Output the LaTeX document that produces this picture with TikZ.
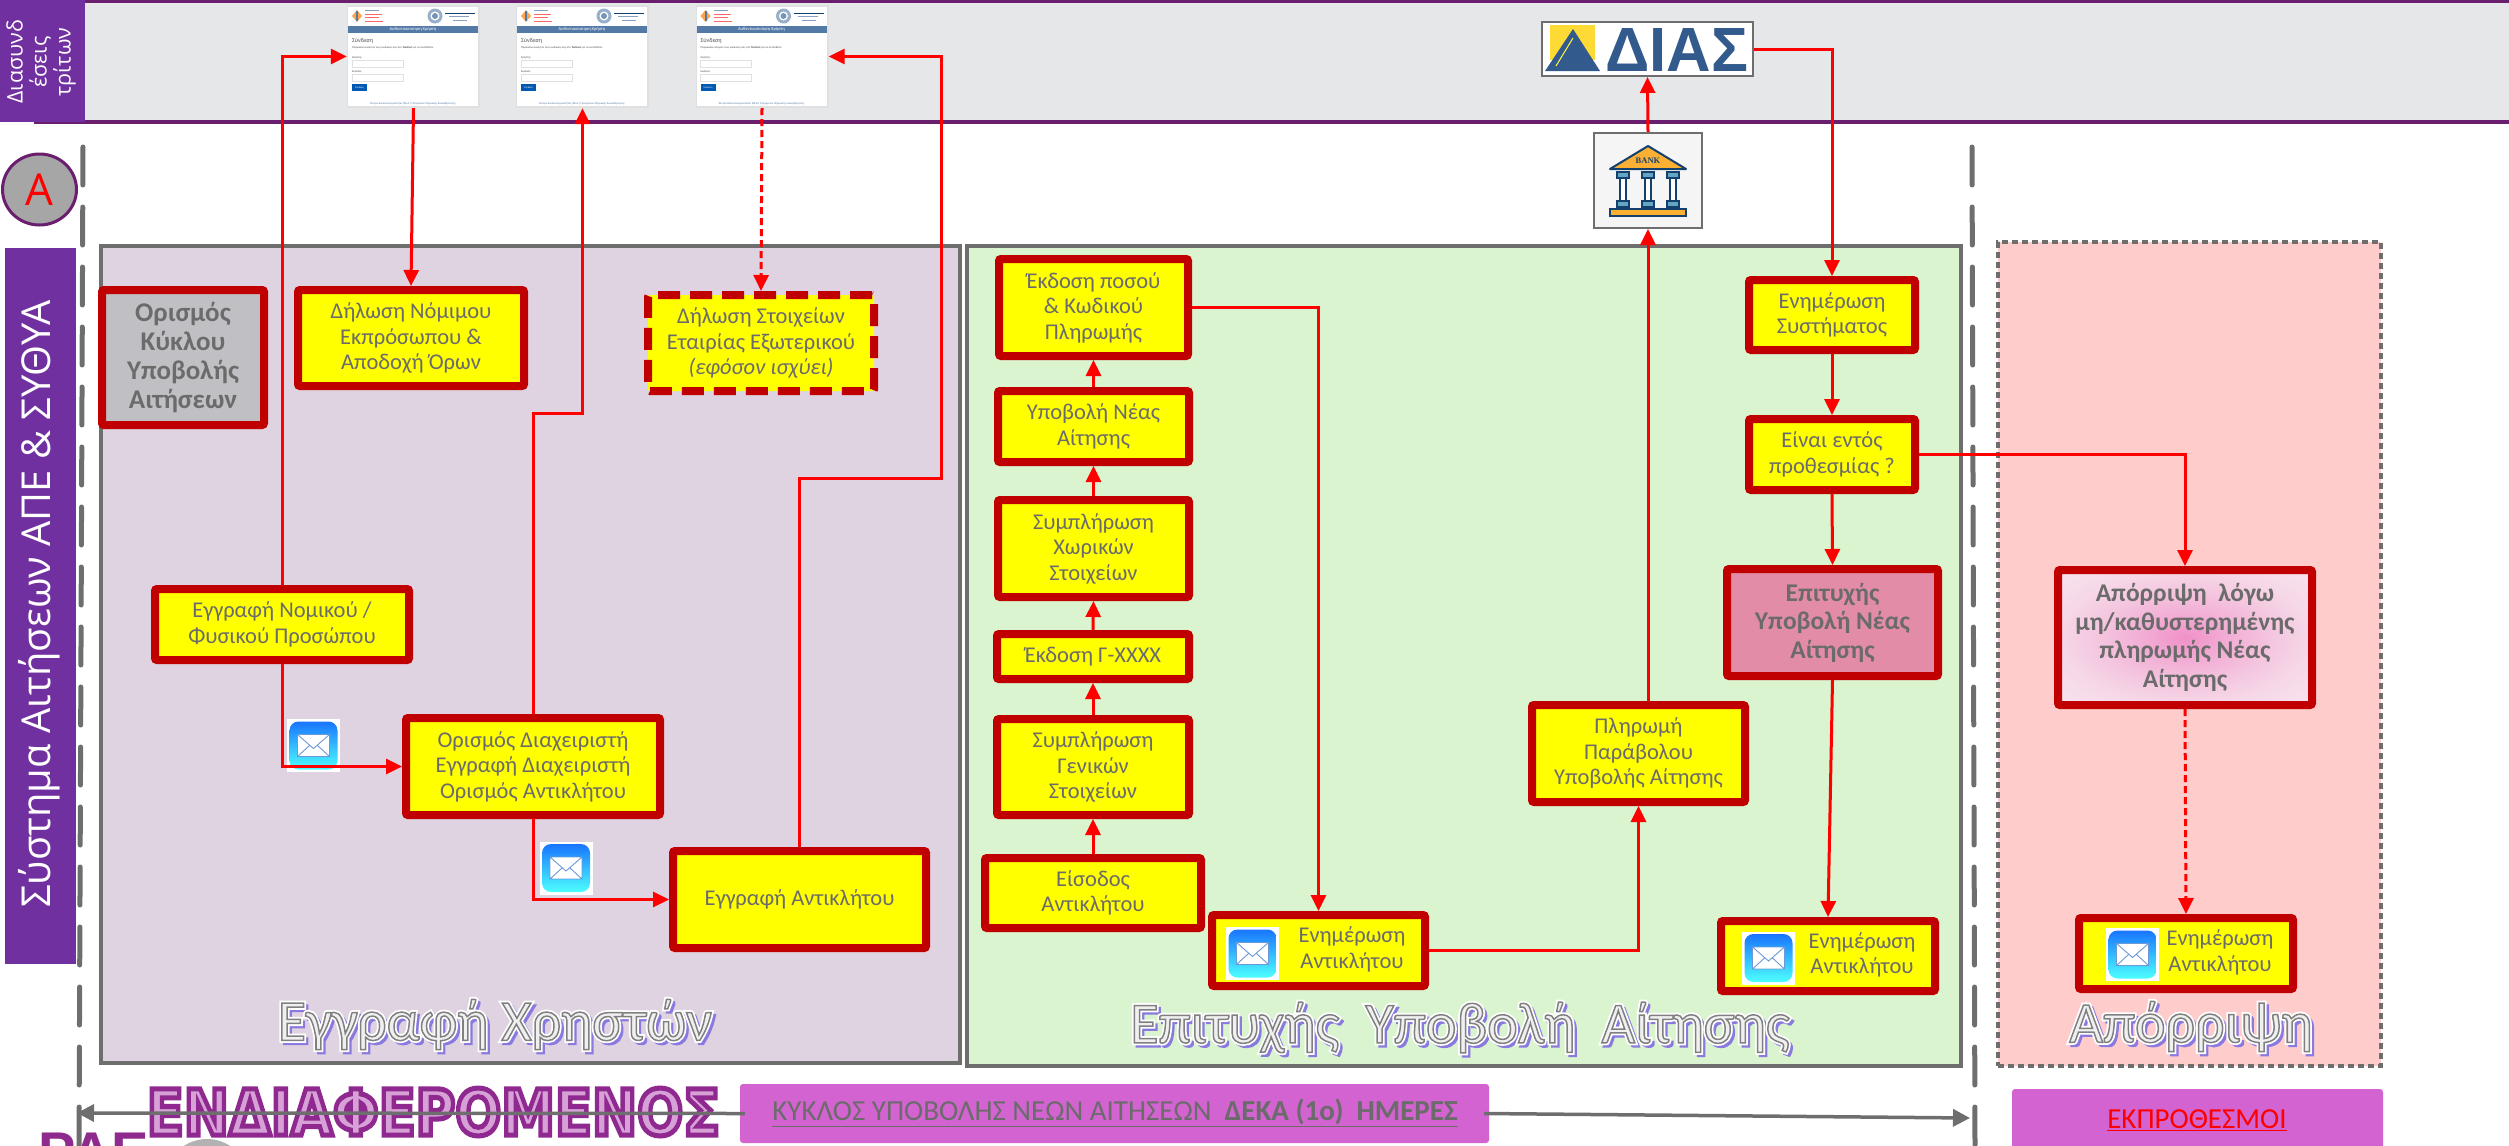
\documentclass[tikz,border=0pt]{standalone}
\usepackage{fontspec}
\usepackage{graphicx}
\setmainfont{Carlito}
\newfontfamily\osans{Open Sans}
\newfontfamily\djv{DejaVu Sans}
\newfontfamily\lib{Liberation Sans}
\newfontfamily\tms{Liberation Serif}
\usetikzlibrary{arrows.meta,shapes.geometric,calc}
\definecolor{sidepurple}{HTML}{7030A0}
\definecolor{bandline}{HTML}{6A1E6E}
\definecolor{bandgrey}{HTML}{E6E7E9}
\definecolor{panelpurple}{HTML}{E0D3E1}
\definecolor{panelgreen}{HTML}{D9F4CE}
\definecolor{panelred}{HTML}{FFCCCC}
\definecolor{edgegrey}{HTML}{6E6E6E}
\definecolor{boxred}{HTML}{C00000}
\definecolor{boxyellow}{RGB}{255,255,0}
\definecolor{txtgrey}{HTML}{6B6B6B}
\definecolor{pill}{HTML}{D263D0}
\definecolor{formblue}{HTML}{5379A6}
\definecolor{navy}{HTML}{14406E}
\definecolor{diasblue}{HTML}{325A8C}
\definecolor{bankorange}{HTML}{FBB034}
\definecolor{shadowblue}{HTML}{8A7AE0}
\definecolor{titlepurple}{HTML}{8F2A8E}
\definecolor{pinka}{HTML}{F090C8}
\definecolor{pinkb}{HTML}{F2ACD4}
\definecolor{pinkc}{HTML}{F4C8E0}
\definecolor{pinkd}{HTML}{F6D8E8}
\definecolor{pinke}{HTML}{F8E4EF}
\pgfdeclareradialshading{pinkrad}{\pgfpoint{0bp}{0bp}}{color(0bp)=(pinka); color(8bp)=(pinkb); color(18bp)=(pinkc); color(25bp)=(pinkd); color(36bp)=(pinke); color(50bp)=(pinke)}
\newcommand\strokefill[3]{\special{pdf:code q 2 Tr #2 w #1 RG}#3\special{pdf:code Q}}
\newcommand\outlinetext[1]{\leavevmode
  \rlap{\hspace{3pt}\raisebox{-3pt}{\color{shadowblue}\strokefill{0.54 0.48 0.88}{3.5}{#1}}}%
  \rlap{\color{white}\strokefill{1 1 1}{5}{#1}}%
  {\color{black!6}\strokefill{0.5 0.5 0.5}{1.5}{#1}}}
\newcommand\lines[1]{\begin{tabular}{@{}c@{}}#1\end{tabular}}
\tikzset{
  flow/.style={draw=boxred,line width=8pt,rounded corners=2pt,fill=boxyellow,text=txtgrey,align=center,inner sep=0pt,
    font=\fontsize{22.5}{25.5}\selectfont},
  flowdash/.style={flow,dash pattern=on 22pt off 10pt},
  boldbox/.style={flow,font=\fontsize{25.5}{28.5}\selectfont\bfseries},
  panel/.style={draw=edgegrey,line width=4pt},
  lane/.style={draw=edgegrey,line width=5pt,line cap=round,dash pattern=on 38pt off 22pt},
  conn/.style={draw=red,line width=3pt,-{Triangle[length=16pt,width=15pt]}},
  connd/.style={conn,dash pattern=on 7pt off 4pt},
  greyarrow/.style={draw=edgegrey,line width=3.5pt,-{Triangle[length=17pt,width=17pt]}},
  pillbox/.style={fill=pill,rounded corners=3pt,inner sep=0pt},
  formframe/.style={fill=black!12,inner sep=0pt},
  tiny/.style={inner sep=0pt,anchor=west},
  paneltitle/.style={inner sep=0pt,font=\fontsize{58}{62}\selectfont},
}
\newcommand\formbody[3]{%
\begin{scope}[shift={(#1,#2)}]
\fill[white] (1,2) rectangle (131,101);
\fill[formblue] (1,21) rectangle (131,28);
\fill[orange!70] (5,11) -- (10,5) -- (15,11) -- (10,17) -- cycle;
\fill[formblue] (9,6) rectangle (11,16);
\draw[line width=.7pt,formblue!70] (18,5) -- (32,5);
\draw[line width=.7pt,red!60] (18,9) -- (35,9);
\draw[line width=.7pt,red!60] (18,12.5) -- (32,12.5);
\draw[line width=.7pt,red!60] (18,16.5) -- (36,16.5);
\fill[formblue!60] (88,11) circle (7.5);
\fill[white] (88,11) circle (4.5);
\fill[formblue!80] (88,11) circle (3);
\draw[line width=.8pt,navy] (98,8) -- (128,8);
\draw[line width=.7pt,formblue!70] (102,11.5) -- (122,11.5);
\draw[line width=.7pt,formblue!70] (106,15) -- (120,15);
\node[inner sep=0pt,text=white,font=\fontsize{4.5}{5}\selectfont] (#3a) at (66,24.5) {Αυθεντικοποίηση Χρήστη};
\node[tiny,text=black!70,font=\fontsize{6}{7}\selectfont] (#3b) at (5,36) {Σύνδεση};
\node[tiny,text=black!70,font=\fontsize{2.8}{3}\selectfont] (#3c) at (5,42.5) {Παρακαλώ εισάγετε τους κωδικούς σας στο \textbf{Taxisnet} για να συνδεθείτε.};
\node[tiny,text=black!70,font=\fontsize{2.8}{3}\selectfont] (#3d) at (5,53) {Χρήστης};
\draw[black!12,fill=white,line width=.5pt] (5,55) rectangle (56,62);
\node[tiny,text=black!70,font=\fontsize{2.8}{3}\selectfont] (#3e) at (5,67) {Κωδικός};
\draw[black!12,fill=white,line width=.5pt] (5,69) rectangle (56,76);
\fill[blue!50!cyan!70!black] (5,79) rectangle (20,86);
\node[inner sep=0pt,text=white,font=\fontsize{2.5}{3}\selectfont] (#3f) at (12.5,82.5) {Σύνδεση};
\node[inner sep=0pt,text=formblue,font=\fontsize{2.8}{3}\selectfont] (#3g) at (66,98.5) {Κέντρο Διαλειτουργικότητας (ΚΕ.Δ.) Υπουργείου Ψηφιακής Διακυβέρνησης};
\end{scope}}
\newcommand\mailicon[2]{%
\begin{scope}[shift={(#1,#2)}]
\fill[white] (-26.5,-26.5) rectangle (26.5,26.5);
\shade[top color=blue!60!cyan!90!white,bottom color=cyan!70!white,rounded corners=9pt] (-24,-24) rectangle (24,24);
\fill[white] (-16,-11) rectangle (16,11);
\draw[cyan!50!blue!60!white,line width=.9pt] (-16,-11) -- (0,3) -- (16,-11) (-16,11) -- (-4,0) (16,11) -- (4,0) (-16,-11) rectangle (16,11);
\end{scope}}
\begin{document}
\begin{tikzpicture}[x=1pt,y=-1pt]
\path[use as bounding box,clip] (0,0) rectangle (2509,1146);
% top band
\fill[bandgrey] (85,0) rectangle (2509,121);
\fill[bandline] (0,0) rectangle (2509,2.5);
\draw[bandline,line width=4pt] (34,122) -- (2509,122);
\fill[sidepurple] (0,0) rectangle (85,122);
\node[rotate=90,text=white,align=center,inner sep=0pt,font=\osans\fontsize{21.5}{24}\selectfont] (thirdlabel) at (41,62) {Διασυνδ\\έσεις\\τρίτων};
% circle A
\node[ellipse,draw=bandline,line width=3pt,fill=black!35,minimum width=74pt,minimum height=71pt,inner sep=0pt,text=red,font=\osans\fontsize{44}{50}\selectfont] (circA) at (39.5,189.5) {A};
% panels
\node[panel,fill=panelpurple,minimum width=859pt,minimum height=817pt,inner sep=0pt] (panA) at (530.5,654.5) {};
\node[panel,fill=panelgreen,minimum width=994pt,minimum height=820pt,inner sep=0pt] (panB) at (1464,656) {};
\node[draw=edgegrey,line width=4pt,dash pattern=on 6pt off 4pt,fill=panelred,minimum width=383pt,minimum height=824pt,inner sep=0pt] (panC) at (2189.5,654) {};
% system sidebar
\node[fill=sidepurple,minimum width=71pt,minimum height=716pt,inner sep=0pt] (sysbar) at (40.5,606) {};
\node[rotate=90,text=white,inner sep=0pt,font=\osans] (systxt) at (39,604) {\resizebox{607pt}{!}{Σύστημα Αιτήσεων ΑΠΕ \& ΣΥΘΥΑ}};
% lane lines
\coordinate (l1a) at (83,147);
\coordinate (l1b) at (79,1146);
\coordinate (l2a) at (1972,147);
\coordinate (l2b) at (1975,1146);
\draw[lane] (l1a) -- (l1b);
\draw[lane] (l2a) -- (l2b);
% forms
\node[formframe,minimum width=133pt,minimum height=103pt] (f1) at (413.5,56.5) {};
\formbody{347}{5}{fa}
\node[formframe,minimum width=133pt,minimum height=103pt] (f2) at (582.5,56.5) {};
\formbody{516}{5}{fb}
\node[formframe,minimum width=133pt,minimum height=103pt] (f3) at (762,56.5) {};
\formbody{695.5}{5}{fc}
% DIAS
\node[draw=edgegrey,line width=2pt,fill=white,minimum width=211pt,minimum height=54pt,inner sep=0pt] (dias) at (1647.5,49) {};
\fill[yellow!70!orange!80!white] (1550,25) rectangle (1595,60);
\fill[diasblue] (1573,29) -- (1600,71) -- (1545,71) -- cycle;
\draw[yellow!70!white,line width=1pt] (1573,38) -- (1556,66);
\node[inner sep=0pt,text=diasblue,font=\lib\bfseries] (diastxt) at (1676.5,49.5) {\resizebox{143pt}{43pt}{ΔΙΑΣ}};
% bank
\node[draw=edgegrey,line width=2pt,fill=black!4,minimum width=108pt,minimum height=95pt,inner sep=0pt] (bank) at (1648,180.5) {};
\draw[navy,line width=2pt,fill=bankorange,line join=round] (1648,146) -- (1686,169) -- (1610,169) -- cycle;
\node[inner sep=0pt,text=navy,font=\tms\bfseries\fontsize{8.5}{9}\selectfont] (banktxt) at (1648,161) {BANK};
\foreach \cx in {1623,1648,1673}{
  \draw[navy,line width=1.2pt,fill=white] (\cx-3,178) rectangle (\cx+3,201);
  \draw[navy,line width=1.2pt,fill=cyan!50!gray] (\cx-6,172) rectangle (\cx+6,178);
  \draw[navy,line width=1.2pt,fill=cyan!50!gray] (\cx-6,201) rectangle (\cx+6,207);
}
\draw[navy,line width=1.5pt,fill=bankorange] (1610,209) rectangle (1686,216);
% left panel boxes
\node[boldbox,fill={rgb,255:red,192;green,192;blue,196},font=\fontsize{27}{29}\selectfont\bfseries,minimum width=162pt,minimum height=135pt] (cyc) at (183,357.5) {Ορισμός\\Κύκλου\\Υποβολής\\Αιτήσεων};
\node[flow,minimum width=226pt,minimum height=96pt] (nomimos) at (411,338) {Δήλωση Νόμιμου\\Εκπρόσωπου \&\\Αποδοχή Όρων};
\node[flowdash,minimum width=226pt,minimum height=96pt] (stoix) at (761,343) {Δήλωση Στοιχείων\\Εταιρίας Εξωτερικού\\\textit{(εφόσον ισχύει)}};
\node[flow,minimum width=254pt,minimum height=71pt] (nomik) at (282,624.5) {Εγγραφή Νομικού /\\Φυσικού Προσώπου};
\node[flow,minimum width=254pt,minimum height=97pt] (ord) at (533,766.5) {Ορισμός Διαχειριστή\\Εγγραφή Διαχειριστή\\Ορισμός Αντικλήτου};
\node[flow,minimum width=253pt,minimum height=97pt] (ant) at (799.5,899.5) {Εγγραφή Αντικλήτου};
% green stack
\node[flow,minimum width=189pt,minimum height=97pt] (ekd) at (1093.5,307.5) {Έκδοση ποσού\\\& Κωδικού\\Πληρωμής};
\node[flow,minimum width=191pt,minimum height=71pt] (ypo) at (1093.5,426.5) {Υποβολή Νέας\\Αίτησης};
\node[flow,minimum width=191pt,minimum height=97pt] (xor) at (1093.5,548.5) {Συμπλήρωση\\Χωρικών\\Στοιχείων};
\node[flow,minimum width=192pt,minimum height=45pt] (gxx) at (1093,656.5) {Έκδοση Γ-ΧΧΧΧ};
\node[flow,minimum width=192pt,minimum height=96pt] (gen) at (1093,767) {Συμπλήρωση\\Γενικών\\Στοιχείων};
\node[flow,minimum width=216pt,minimum height=70pt] (eis) at (1093,893) {Είσοδος\\Αντικλήτου};
\node[flow,minimum width=213pt,minimum height=71pt] (en1) at (1318.5,950.5) {\hspace*{67pt}\lines{Ενημέρωση\\Αντικλήτου}};
\node[flow,minimum width=213pt,minimum height=97pt] (pl) at (1638.5,753.5) {Πληρωμή\\Παράβολου\\Υποβολής Αίτησης};
\node[flow,minimum width=166pt,minimum height=70pt] (sys) at (1832,315) {Ενημέρωση\\Συστήματος};
\node[flow,minimum width=166pt,minimum height=71pt] (ent) at (1832,454.5) {Είναι εντός\\προθεσμίας ?};
\node[boldbox,fill={rgb,255:red,227;green,140;blue,168},minimum width=211pt,minimum height=107pt] (epi) at (1832.5,622.5) {Επιτυχής\\Υποβολή Νέας\\Αίτησης};
\node[flow,minimum width=214pt,minimum height=70pt] (en2) at (1828,956) {\hspace*{68pt}\lines{Ενημέρωση\\Αντικλήτου}};
\node[boldbox,shading=pinkrad,minimum width=254pt,minimum height=135pt] (apo) at (2185,637.5) {Απόρριψη\ \ λόγω\\μη/καθυστερημένης\\πληρωμής Νέας\\Αίτησης};
\node[flow,minimum width=214pt,minimum height=71pt] (en3) at (2186,953.5) {\hspace*{68pt}\lines{Ενημέρωση\\Αντικλήτου}};
% icons
\mailicon{313.5}{745.5}
\mailicon{566}{868}
\mailicon{1252.5}{953.5}
\mailicon{1768.5}{958}
\mailicon{2132.5}{954.5}
% panel titles
\node[paneltitle] (tA) at (495,1026) {\outlinetext{Εγγραφή Χρηστών}};
\node[paneltitle] (tB) at (1460,1029) {\outlinetext{Επιτυχής\ \ Υποβολή\ \ Αίτησης}};
\node[paneltitle] (tC) at (2191,1028) {\outlinetext{Απόρριψη}};
% bottom
\node[inner sep=0pt,anchor=base west,text=titlepurple,font=\lib\bfseries\fontsize{56}{58}\selectfont] (rae) at (38,1171) {ΡΑΕ};
\node[circle,fill=black!30,minimum size=84pt,inner sep=0pt] (disc) at (207,1181) {};
\node[inner sep=0pt,text={rgb,255:red,215;green,160;blue,215},font=\djv\bfseries] (endia) at (433.5,1112) {\resizebox{573pt}{47pt}{\strokefill{0.56 0.16 0.56}{0.8}{ΕΝΔΙΑΦΕΡΟΜΕΝΟΣ}}};
\node[pillbox,minimum width=749pt,minimum height=59pt] (pill1) at (1114.5,1113.5) {};
\node[inner sep=0pt,text=txtgrey,font=\fontsize{29}{32}\selectfont] (pill1t) at (1115,1113) {\underline{ΚΥΚΛΟΣ ΥΠΟΒΟΛΗΣ ΝΕΩΝ ΑΙΤΗΣΕΩΝ\ \ \textbf{ΔΕΚΑ (1ο)\ \ ΗΜΕΡΕΣ}}};
\node[pillbox,minimum width=371pt,minimum height=70pt] (pill2) at (2197.5,1124) {};
\node[inner sep=0pt,text=red,font=\fontsize{29}{32}\selectfont] (pill2t) at (2197,1120) {\underline{ΕΚΠΡΟΘΕΣΜΟΙ}};
\coordinate (gl) at (77,1113);
\coordinate (gr) at (1970,1118);
\draw[greyarrow] (pill1.west) ++(5,0) -- (gl);
\draw[greyarrow] (pill1.east) ++(-5,0) -- (gr);
% connectors
\coordinate (k1) at (558,413);
\coordinate (k2) at (941,478);
\draw[conn] (nomik.north) |- (f1.west);
\draw[conn] (nomik.south) |- (ord.west);
\draw[conn] (f1.south) -- (nomimos.north);
\draw[conn] (ord.north) |- (k1) -| (f2.south);
\draw[connd] (f3.south) -- (stoix.north);
\draw[conn] (ant.north) |- (k2) |- (f3.east);
\draw[conn] (ord.south) |- (ant.west);
\draw[conn] (eis.north) -- (gen.south);
\draw[conn] (gen.north) -- (gxx.south);
\draw[conn] (gxx.north) -- (xor.south);
\draw[conn] (xor.north) -- (ypo.south);
\draw[conn] (ypo.north) -- (ekd.south);
\draw[conn] (ekd.east) -| (en1.north);
\draw[conn] (en1.east) -| (pl.south);
\draw[conn] (bank.south |- pl.north) -- (bank.south);
\draw[conn] (bank.north) -- (dias.south);
\draw[conn] (dias.east) -| (sys.north);
\draw[conn] (sys.south) -- (ent.north);
\draw[conn] (ent.south) -- (epi.north);
\draw[conn] (ent.east) -| (apo.north);
\draw[conn] (epi.south) -- (en2.north);
\draw[connd] (apo.south) -- (en3.north);
\end{tikzpicture}
\end{document}
